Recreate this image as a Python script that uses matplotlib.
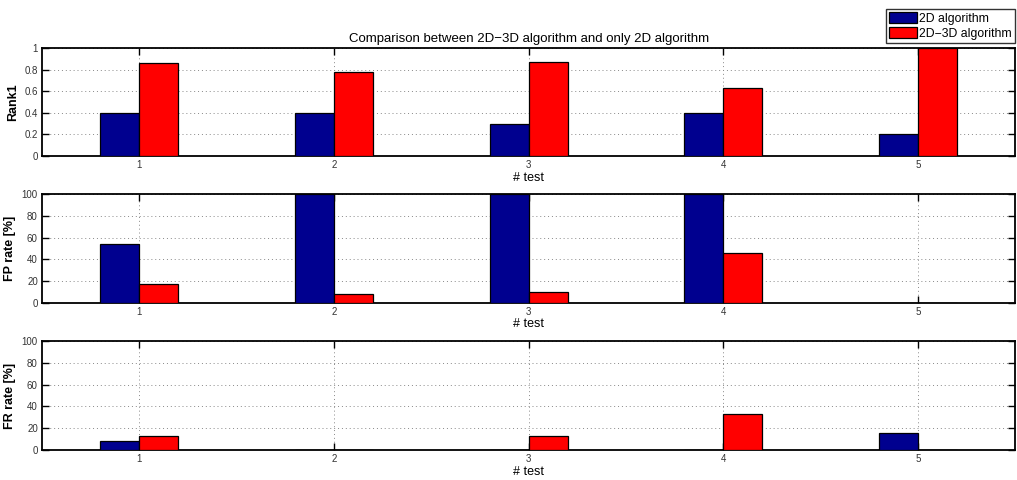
import numpy as np
import matplotlib
matplotlib.use("Agg")
import matplotlib.pyplot as plt
import matplotlib.ticker as ticker

# --------------------------------------------------------------------------- #
# data
# --------------------------------------------------------------------------- #
tests = [1, 2, 3, 4, 5]
series_names = ["2D algorithm", "2D\u22123D algorithm"]

rank1_2d   = [0.40, 0.40, 0.30, 0.40, 0.20]
rank1_2d3d = [0.865, 0.78, 0.875, 0.63, 1.00]

fp_2d   = [54, 100, 100, 100, 0]
fp_2d3d = [17, 8, 10, 46, 0]

fr_2d   = [8, 0, 0, 0, 16]
fr_2d3d = [13, 0, 13, 33, 0]

ylabels = ["Rank1", "FP rate [%]", "FR rate [%]"]
ymax = [1, 100, 100]

COLORS = ["#00008f", "#ff0000"]
BAR_W = 0.2

plt.rcParams.update({
    "font.family": ["Liberation Sans", "DejaVu Sans"],
    "font.size": 8,
    "axes.linewidth": 1.3,
})

fig = plt.figure(figsize=(10.17, 4.8), dpi=100)
# axes boxes in figure fractions: (left, bottom, width, height)
boxes = [
    (0.0413, 0.675, 0.957, 0.225),
    (0.0413, 0.369, 0.957, 0.227),
    (0.0413, 0.0625, 0.957, 0.227),
]

data = [(rank1_2d, rank1_2d3d), (fp_2d, fp_2d3d), (fr_2d, fr_2d3d)]
x = np.array(tests, dtype=float)
bar_handles = None

for i, (box, (a, b)) in enumerate(zip(boxes, data)):
    ax = fig.add_axes(box)
    h1 = ax.bar(x - BAR_W / 2, a, BAR_W, color=COLORS[0],
                edgecolor="black", linewidth=0.9, zorder=3)
    h2 = ax.bar(x + BAR_W / 2, b, BAR_W, color=COLORS[1],
                edgecolor="black", linewidth=0.9, zorder=3)
    if bar_handles is None:
        bar_handles = (h1, h2)

    ax.set_xlim(0.5, 5.5)
    ax.set_ylim(0, ymax[i])
    ax.set_xticks(tests)
    ax.set_yticks(np.linspace(0, ymax[i], 6))
    ax.yaxis.set_major_formatter(ticker.FuncFormatter(lambda v, p: f"{v:g}"))
    ax.tick_params(direction="in", length=5, width=1.0, labelsize=7,
                   top=True, right=True, pad=3, colors="black",
                   labelcolor="#333333")
    ax.grid(True, ls=(0, (1, 3)), color="#888888", linewidth=0.7, zorder=0)
    ax.set_axisbelow(True)
    ax.set_ylabel(ylabels[i], fontsize=9, fontweight="bold", labelpad=4)
    ax.set_xlabel("# test", fontsize=9, labelpad=1)

    if i == 0:
        ax.set_title("Comparison between 2D\u22123D algorithm and only 2D algorithm",
                     fontsize=9.5, pad=4)

fig.legend(bar_handles, series_names, loc="upper right",
           bbox_to_anchor=(0.998, 0.981), fontsize=8.8,
           frameon=True, fancybox=False, edgecolor="black",
           handlelength=2.3, handleheight=1.0, handletextpad=0.15,
           borderpad=0.25, labelspacing=0.2, borderaxespad=0)

fig.savefig("out.png", dpi=100)
